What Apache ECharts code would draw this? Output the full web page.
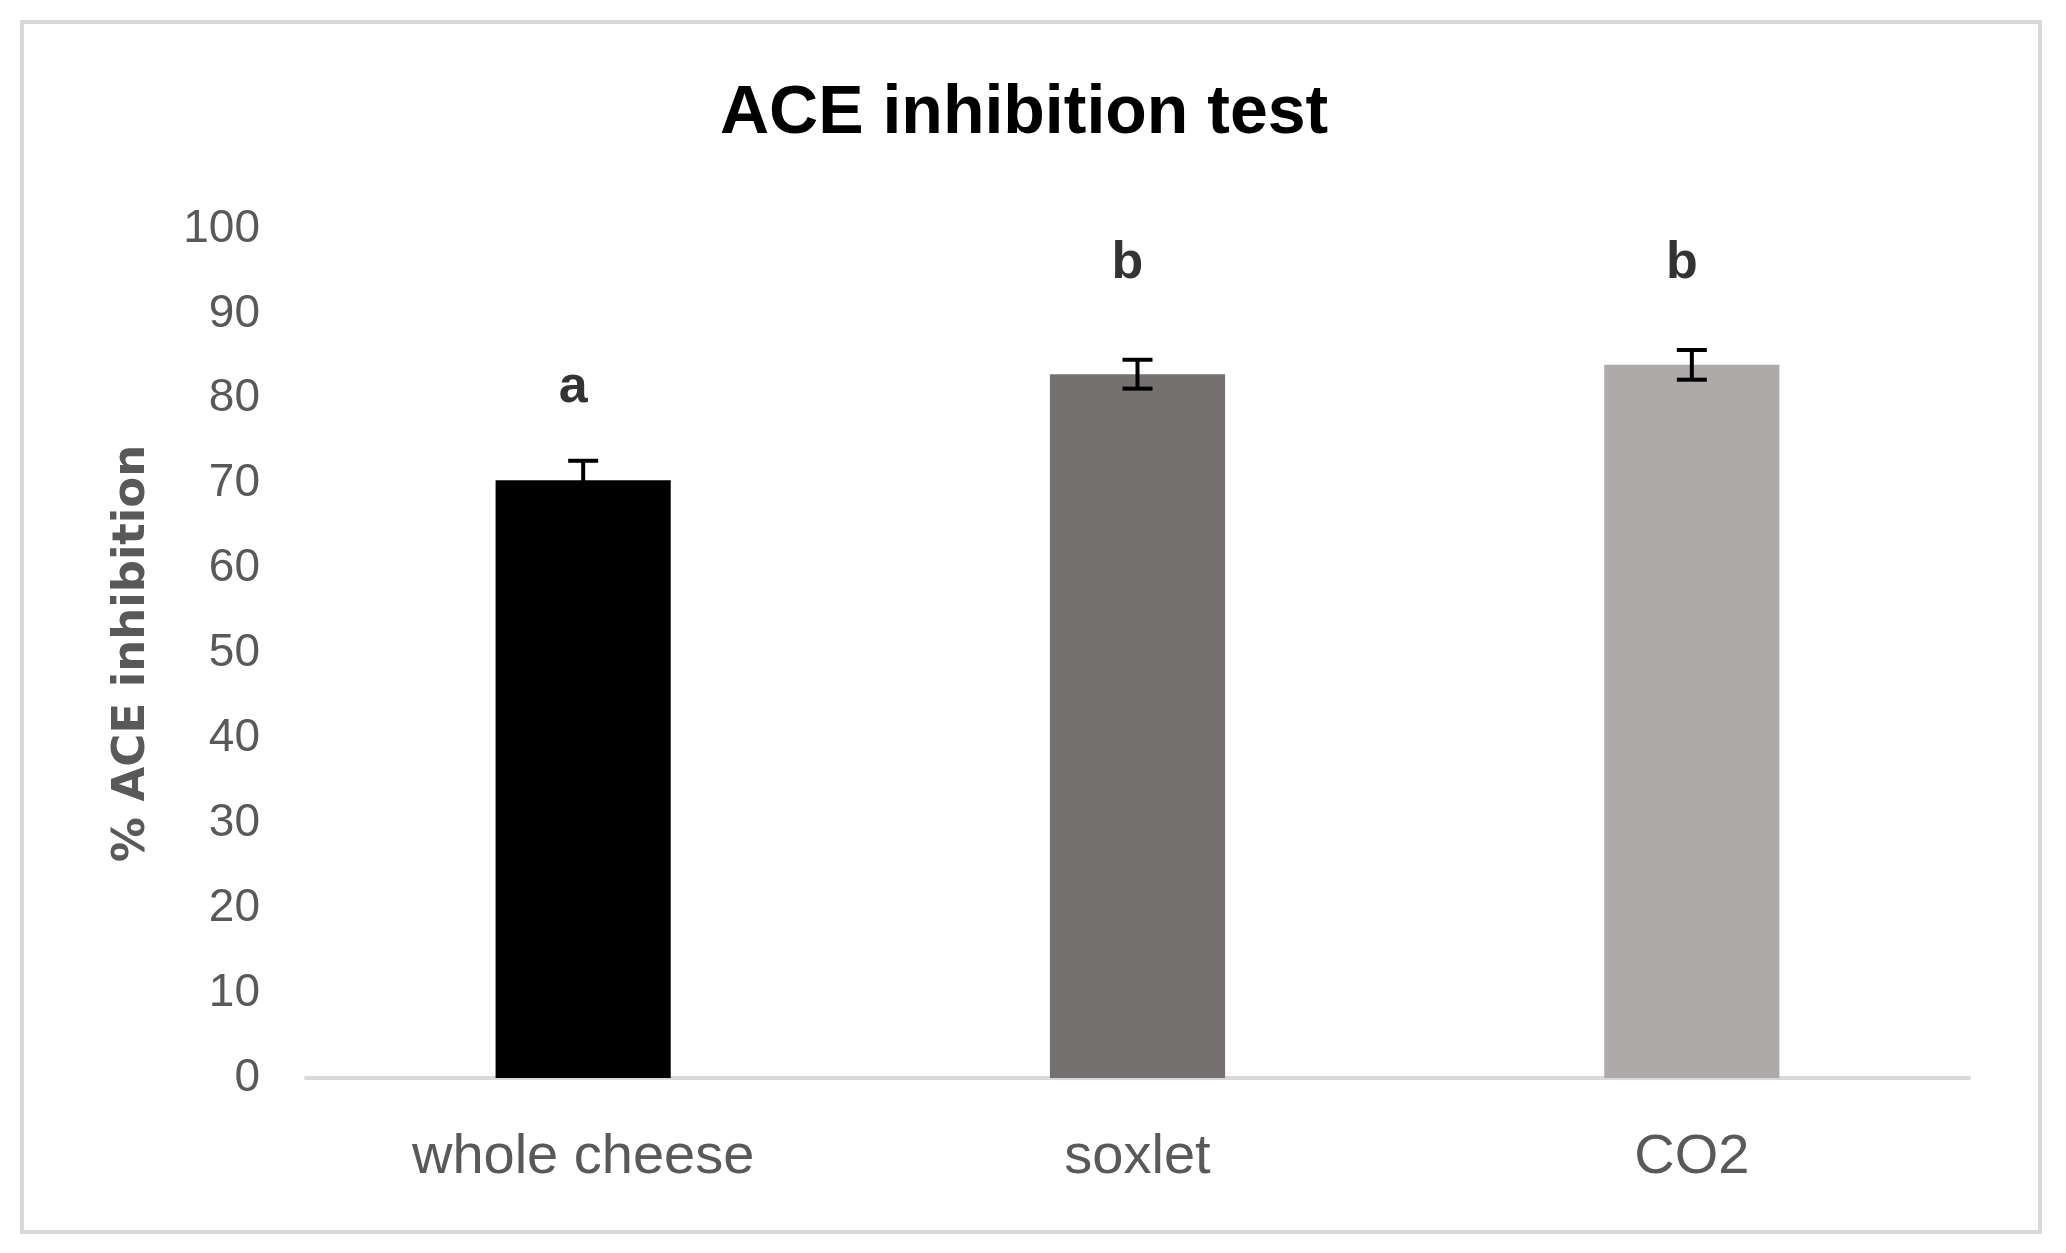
<!DOCTYPE html>
<html>
<head>
<meta charset="utf-8">
<script src="https://cdn.jsdelivr.net/npm/echarts@6/dist/echarts.min.js"></script>
<style>
html,body{margin:0;padding:0;background:#fff;}
#chart{width:2066px;height:1253px;}
</style>
</head>
<body>
<div id="chart"></div>
<script>
const categories = ['whole cheese', 'soxlet', 'CO2'];
const values = [70.4, 82.9, 84.0];
const errors = [2.3, 1.7, 1.75];
const barColors = ['#000000', '#757171', '#AEAAAA'];
const letters = ['a', 'b', 'b'];
const letterY = [81.3, 95.9, 95.9];
const yTicks = [0, 10, 20, 30, 40, 50, 60, 70, 80, 90, 100];

const chart = echarts.init(document.getElementById('chart'));
const labelFont = 'Liberation Sans';

chart.setOption({
  backgroundColor: '#ffffff',
  animation: false,
  title: {
    text: 'ACE inhibition test',
    left: 715,
    top: 75,
    textStyle: { fontFamily: labelFont, fontWeight: 'bold', fontSize: 68, color: '#000000' }
  },
  graphic: [{
    type: 'rect',
    shape: { x: 22, y: 22, width: 2018, height: 1210 },
    style: { fill: 'none', stroke: '#d9d9d9', lineWidth: 4 },
    silent: true
  }],
  grid: { left: 306, right: 97, top: 229, bottom: 175 },
  xAxis: {
    type: 'category',
    data: categories,
    axisLine: { show: true, lineStyle: { color: '#d9d9d9', width: 4 } },
    axisTick: { show: false },
    axisLabel: { margin: 52, fontFamily: labelFont, fontSize: 56, color: '#595959' }
  },
  yAxis: {
    type: 'value',
    min: yTicks[0],
    max: yTicks[yTicks.length - 1],
    interval: yTicks[1] - yTicks[0],
    name: '% ACE inhibition',
    nameLocation: 'middle',
    nameGap: 151,
    nameTextStyle: { fontFamily: 'DejaVu Sans', fontWeight: 'bold', fontSize: 45, color: '#595959' },
    axisLine: { show: false },
    axisTick: { show: false },
    splitLine: { show: false },
    axisLabel: { margin: 46, fontFamily: labelFont, fontSize: 46, color: '#595959' }
  },
  series: [
    {
      type: 'bar',
      barWidth: '31.6%',
      data: values.map((v, i) => ({ value: v, itemStyle: { color: barColors[i] } })),
      z: 2
    },
    {
      type: 'custom',
      z: 5,
      data: values.map((v, i) => [i, v - errors[i], v + errors[i]]),
      renderItem: function (params, api) {
        const x = api.value(0);
        const lo = api.coord([x, api.value(1)]);
        const hi = api.coord([x, api.value(2)]);
        const half = 15;
        const st = { stroke: '#000000', lineWidth: 4 };
        return {
          type: 'group',
          children: [
            { type: 'line', shape: { x1: hi[0], y1: hi[1], x2: lo[0], y2: lo[1] }, style: st },
            { type: 'line', shape: { x1: hi[0] - half, y1: hi[1], x2: hi[0] + half, y2: hi[1] }, style: st },
            { type: 'line', shape: { x1: lo[0] - half, y1: lo[1], x2: lo[0] + half, y2: lo[1] }, style: st }
          ]
        };
      }
    },
    {
      type: 'scatter',
      symbolSize: 0,
      z: 6,
      data: letterY.map((y, i) => [i, y, letters[i]]),
      label: {
        show: true,
        position: 'inside',
        offset: [-10, 0],
        formatter: p => p.data[2],
        fontFamily: labelFont,
        fontWeight: 'bold',
        fontSize: 52,
        color: '#000000'
      }
    }
  ]
});
</script>
</body>
</html>
